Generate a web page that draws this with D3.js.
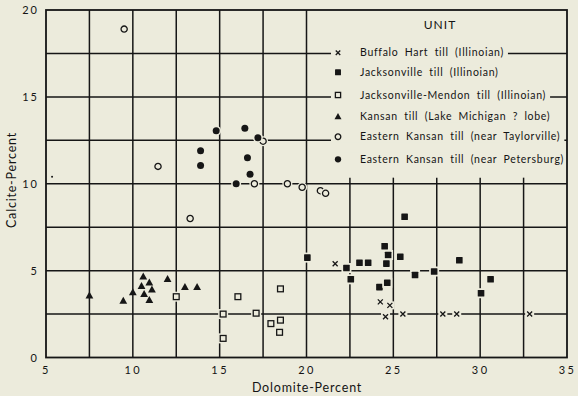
<!DOCTYPE html>
<html><head><meta charset="utf-8">
<script src="https://cdn.jsdelivr.net/npm/d3@7"></script>
<style>
html,body{margin:0;padding:0;background:#ecebdc;}
svg{display:block;}
text{font-family:Lato,"DejaVu Sans",sans-serif;fill:#141414;}
</style></head>
<body>
<svg id="chart" width="578" height="396"></svg>
<script>
// ---- data (Dolomite %, Calcite %) ----
const buffaloHart = [[21.65,5.4],[24.25,3.2],[24.8,3.0],[24.55,2.35],[25.55,2.5],[27.85,2.5],[28.65,2.5],[32.85,2.5]];
const jacksonville = [[25.65,8.1],[20.05,5.75],[22.3,5.15],[22.55,4.5],[23.05,5.45],[23.55,5.45],[24.5,6.4],[24.7,5.9],[24.6,5.4],[25.4,5.8],[24.2,4.05],[24.65,4.3],[26.25,4.75],[27.35,4.95],[28.8,5.6],[30.05,3.7],[30.6,4.5]];
const jacksonvilleMendon = [[12.5,3.5],[16.05,3.5],[15.2,2.5],[17.1,2.55],[15.2,1.1],[18.5,3.95],[17.95,1.95],[18.5,2.15],[18.45,1.45]];
const kansanLM = [[7.5,3.55],[9.45,3.25],[10.0,3.75],[10.6,4.65],[10.5,4.1],[10.95,4.3],[11.1,3.9],[10.65,3.65],[10.95,3.3],[12.0,4.5],[13.0,4.05],[13.7,4.05]];
const eastTaylorville = [[9.5,18.9],[11.45,11.0],[13.3,8.0],[17.5,12.45],[17.0,10.0],[18.9,10.0],[19.75,9.8],[20.8,9.6],[21.1,9.45]];
const eastPetersburg = [[14.8,13.05],[16.45,13.2],[17.2,12.65],[13.9,11.9],[13.9,11.05],[16.6,11.5],[16.75,10.55],[15.95,10.0]];
const strayMarks = [[5.35,10.4]];

const xTicks = [5,10,15,20,25,30,35];
const yTicks = [0,5,10,15,20];
const xGrid = [7.5,10,12.5,15,17.5,20,22.5,25,27.5,30,32.5];
const yGrid = [2.5,5,7.5,10,12.5,15,17.5];
const legendTitle = "UNIT";
const legendLabels = [
  "Buffalo Hart till (Illinoian)",
  "Jacksonville till (Illinoian)",
  "Jacksonville-Mendon till (Illinoian)",
  "Kansan till (Lake Michigan ? lobe)",
  "Eastern Kansan till (near Taylorville)",
  "Eastern Kansan till (near Petersburg)"
];
const xTitle = "Dolomite-Percent";
const yTitle = "Calcite-Percent";

// ---- drawing ----
const BG = "#ecebdc", INK = "#161616";
const svg = d3.select("#chart");
svg.append("rect").attr("width",578).attr("height",396).attr("fill",BG);
const x = d3.scaleLinear().domain([5,35]).range([46,567]);
const y = d3.scaleLinear().domain([0,20]).range([357.5,10]);
const legendBottom = 10.35; // calcite value where legend box ends

const g = svg.append("g");
g.selectAll(".hg").data(yGrid).join("line")
  .attr("x1",x(5)).attr("x2",x(35)).attr("y1",d=>y(d)).attr("y2",d=>y(d))
  .attr("stroke",INK).attr("stroke-width",1.5);
g.selectAll(".vg").data(xGrid).join("line")
  .attr("x1",d=>x(d)).attr("x2",d=>x(d))
  .attr("y1",d=> d>20 ? y(legendBottom) : y(20)).attr("y2",y(0))
  .attr("stroke",INK).attr("stroke-width",1.5);

// axes
const xAxis = d3.axisBottom(x).tickValues(xTicks).tickSize(0).tickPadding(9);
const ax = svg.append("g").attr("transform",`translate(0,${y(0)})`).call(xAxis);
ax.select(".domain").remove();
ax.selectAll("text").attr("font-size",11).attr("letter-spacing",2.5).attr("fill",INK)
  .attr("font-family","Lato,'DejaVu Sans',sans-serif");
const yAxis = d3.axisLeft(y).tickValues(yTicks).tickSize(0).tickPadding(7);
const ay = svg.append("g").attr("transform",`translate(${x(5)},0)`).call(yAxis);
ay.select(".domain").remove();
ay.selectAll("text").attr("font-size",11).attr("letter-spacing",2).attr("fill",INK)
  .attr("font-family","Lato,'DejaVu Sans',sans-serif");

svg.append("text").attr("x",307).attr("y",392).attr("text-anchor","middle")
  .attr("font-size",12.5).attr("letter-spacing",0.8).text(xTitle);
svg.append("text").attr("transform","translate(16,180) rotate(-90)").attr("text-anchor","middle")
  .attr("font-size",12.5).attr("letter-spacing",0.8).text(yTitle);

function marker(sel, type, size){
  const s = size||1;
  if(type==="x"){
    sel.append("rect").attr("x",-4.5*s).attr("y",-4*s).attr("width",9*s).attr("height",8*s).attr("fill",BG);
    sel.append("path").attr("d",`M${-2.5*s},${-2.5*s}L${2.5*s},${2.5*s}M${-2.5*s},${2.5*s}L${2.5*s},${-2.5*s}`)
      .attr("stroke",INK).attr("stroke-width",1.3);
  } else if(type==="sqf"){
    sel.append("rect").attr("x",-5).attr("y",-5).attr("width",10).attr("height",10).attr("fill",BG);
    sel.append("rect").attr("x",-3.3*s).attr("y",-3.3*s).attr("width",6.6*s).attr("height",6.6*s).attr("fill",INK).attr("rx",0.6);
  } else if(type==="sqo"){
    sel.append("rect").attr("x",-5).attr("y",-5).attr("width",10).attr("height",10).attr("fill",BG);
    sel.append("rect").attr("x",-2.9*s).attr("y",-2.9*s).attr("width",5.8*s).attr("height",5.8*s)
      .attr("fill",BG).attr("stroke",INK).attr("stroke-width",1.3);
  } else if(type==="tri"){
    sel.append("path").attr("d",`M0,${-4.2*s}L${3.9*s},${2.8*s}L${-3.9*s},${2.8*s}Z`).attr("fill",INK);
  } else if(type==="co"){
    sel.append("circle").attr("r",5).attr("fill",BG);
    sel.append("circle").attr("r",3.1*s).attr("fill",BG).attr("stroke",INK).attr("stroke-width",1.3);
  } else if(type==="cf"){
    sel.append("circle").attr("r",5).attr("fill",BG);
    sel.append("circle").attr("r",3.5*s).attr("fill",INK);
  }
}
const series = [
  {data:buffaloHart, type:"x"},
  {data:jacksonville, type:"sqf"},
  {data:jacksonvilleMendon, type:"sqo"},
  {data:kansanLM, type:"tri"},
  {data:eastTaylorville, type:"co"},
  {data:eastPetersburg, type:"cf"}
];
const pts = svg.append("g");
series.forEach(s=>{
  pts.selectAll(null).data(s.data).join("g")
    .attr("transform",d=>`translate(${x(d[0])},${y(d[1])})`)
    .each(function(){ marker(d3.select(this), s.type); });
});
pts.selectAll(null).data(strayMarks).join("circle")
  .attr("cx",d=>x(d[0])).attr("cy",d=>y(d[1])).attr("r",1).attr("fill",INK);

// legend
const leg = svg.append("g");
leg.append("text").attr("x",440).attr("y",29).attr("text-anchor","middle")
  .attr("font-size",12).attr("letter-spacing",1).text(legendTitle);
const rowY = [52.7,72.3,95,116.7,136.7,159.3];
const types = ["x","sqf","sqo","tri","co","cf"];
legendLabels.forEach((lab,i)=>{
  const row = leg.append("g").attr("transform",`translate(0,${rowY[i]})`);
  const t = row.append("text").attr("x",360).attr("y",3.7).attr("font-size",10.5)
    .attr("letter-spacing",0.7).attr("word-spacing",3).text(lab);
  const w = t.node().getComputedTextLength();
  const rw = Math.min(360-331+w+4, x(35)-1-331);
  row.insert("rect","text").attr("x",331).attr("y",-7).attr("width",rw).attr("height",13).attr("fill",BG);
  const m = row.append("g").attr("transform",`translate(338,0)`);
  marker(m, types[i], 0.9);
});

// frame on top
svg.append("rect").attr("x",x(5)).attr("y",y(20)).attr("width",x(35)-x(5)).attr("height",y(0)-y(20))
  .attr("fill","none").attr("stroke",INK).attr("stroke-width",1.8);
</script>
</body></html>
